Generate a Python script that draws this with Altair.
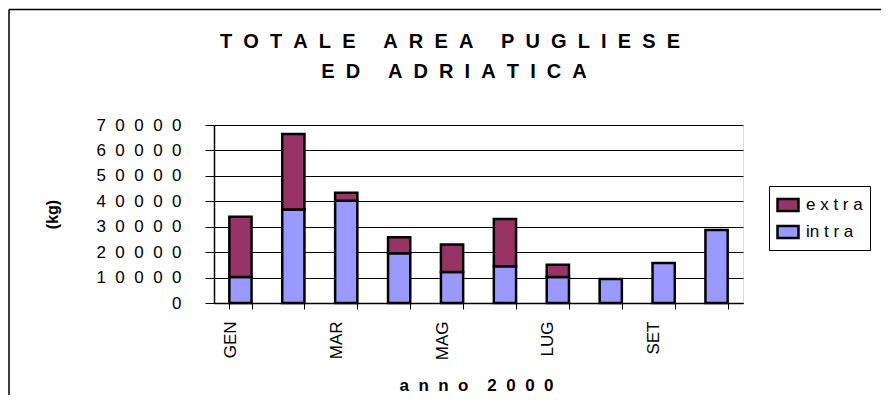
import altair as alt
import pandas as pd

months = ["GEN", "FEB", "MAR", "APR", "MAG", "GIU", "LUG", "AGO", "SET", "OTT"]
intra = [10200, 36800, 40200, 19600, 12200, 14500, 10200, 9400, 15700, 28700]
extra = [23700, 29700, 3200, 6300, 10800, 18500, 4800, 0, 0, 0]
shown_months = ["GEN", "MAR", "MAG", "LUG", "SET"]
y_ticks = [0, 10000, 20000, 30000, 40000, 50000, 60000, 70000]
series = ["extra", "intra"]
series_labels = {"extra": "e x t r a", "intra": "in t r a"}
title_lines = ["TOTALE AREA PUGLIESE", "ED ADRIATICA"]
x_title = "anno 2000"
y_title = "(kg)"

NB = "\u00a0"


def spaced(text, inner=2, word=5):
    return (NB * word).join((NB * inner).join(w) for w in text.split(" "))


rows = []
for i, m in enumerate(months):
    rows.append({"mese": m, "serie": "intra", "kg": intra[i], "ord": 0})
    if extra[i] > 0:
        rows.append({"mese": m, "serie": "extra", "kg": extra[i], "ord": 1})
df = pd.DataFrame(rows)

font = "Liberation Sans"

shown_js = "[" + ",".join("'" + m + "'" for m in shown_months) + "]"
leg_expr = " : ".join(
    "datum.label == '%s' ? '%s'" % (k, v.replace(" ", NB)) for k, v in series_labels.items()
) + " : datum.label"

bars = alt.Chart(df).mark_bar(stroke="black", strokeWidth=2.5).encode(
    x=alt.X(
        "mese:N",
        sort=months,
        scale=alt.Scale(paddingInner=0.58, paddingOuter=0.29),
        axis=alt.Axis(
            title=spaced(x_title, 2, 4),
            labelAngle=-90,
            labelExpr="indexof(" + shown_js + ", datum.value) >= 0 ? datum.value : ''",
            tickBand="extent",
            tickSize=6,
            tickColor="black",
            domainColor="black",
            domainWidth=1.5,
            labelFont=font,
            labelFontSize=17,
            labelColor="black",
            labelPadding=12,
            labelOffset=-10,
            titleFont=font,
            titleFontSize=17,
            titleFontWeight="bold",
            titleColor="black",
            titleX=262,
            titleY=87,
            titleAlign="center",
            titleBaseline="alphabetic",
            grid=False,
        ),
    ),
    y=alt.Y(
        "kg:Q",
        stack="zero",
        scale=alt.Scale(domain=[0, 70000], nice=False),
        axis=alt.Axis(
            values=y_ticks,
            labelExpr="join(split(format(datum.value, 'd'), ''), '" + NB + NB + "')",
            grid=True,
            gridColor="black",
            gridWidth=1,
            tickSize=9,
            tickColor="black",
            domainColor="black",
            domainWidth=1.5,
            labelFont=font,
            labelFontSize=17,
            labelColor="black",
            labelPadding=24,
            title=y_title,
            titleFont=font,
            titleFontSize=16,
            titleFontWeight="bold",
            titleColor="black",
            titleAngle=270,
            titleX=-162,
            titleY=89,
            titleAlign="center",
            titleBaseline="middle",
        ),
    ),
    color=alt.Color(
        "serie:N",
        scale=alt.Scale(domain=series, range=["#993366", "#9999FF"]),
        legend=alt.Legend(
            title=None,
            orient="none",
            legendX=555,
            legendY=61,
            direction="vertical",
            labelExpr=leg_expr,
            labelFont=font,
            labelFontSize=17,
            labelColor="black",
            symbolType="M-1,-0.57H1V0.57H-1Z",
            symbolSize=441,
            symbolStrokeColor="black",
            symbolStrokeWidth=2.5,
            symbolOpacity=1,
            rowPadding=4,
            padding=7,
            strokeColor="black",
            fillColor="white",
            labelOffset=6,
        ),
    ),
    order=alt.Order("ord:Q"),
)

one = alt.Data(values=[{"k": 1}])
frame_top = alt.Chart(one).mark_rule(color="black", strokeWidth=1.5).encode(
    x=alt.value(-205), x2=alt.value(667), y=alt.value(-115.5)
)
frame_left = alt.Chart(one).mark_rule(color="black", strokeWidth=1.5).encode(
    x=alt.value(-205), y=alt.value(-115.5), y2=alt.value(270)
)

title_df = pd.DataFrame({"t": [spaced(s, 2, 5) for s in title_lines]})
title1 = alt.Chart(title_df.iloc[[0]]).mark_text(
    font=font, fontSize=20, fontWeight="bold", color="black", align="center", baseline="alphabetic"
).encode(text="t:N", x=alt.value(236), y=alt.value(-77))
title2 = alt.Chart(title_df.iloc[[1]]).mark_text(
    font=font, fontSize=20, fontWeight="bold", color="black", align="center", baseline="alphabetic"
).encode(text="t:N", x=alt.value(240), y=alt.value(-47))

chart = alt.layer(bars, frame_top, frame_left, title1, title2).properties(
    width=529,
    height=178,
    autosize="none",
    padding={"left": 206, "top": 117, "right": 138, "bottom": 92},
).configure_view(fill="#C0C0C0", stroke="#808080", strokeWidth=2).configure(background="white")

chart.save("out.html", embed_options={"renderer": "svg", "actions": False})
